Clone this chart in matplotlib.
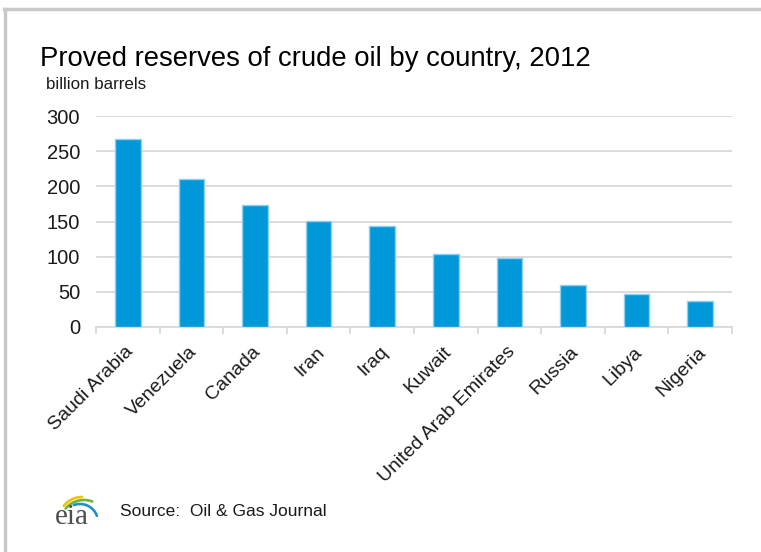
import matplotlib
matplotlib.use("Agg")
import matplotlib.pyplot as plt
import matplotlib.transforms as mtransforms
import numpy as np

####################################
# Data
####################################

countries = ['Saudi Arabia', 'Venezuela', 'Canada', 'Iran', 'Iraq', 'Kuwait',
             'United Arab Emirates', 'Russia', 'Libya', 'Nigeria']
reserves = [267, 211, 173, 151, 143, 104, 98, 60, 47, 37]
y_ticks = [0, 50, 100, 150, 200, 250, 300]

title = 'Proved reserves of crude oil by country, 2012'
unit = 'billion barrels'
source = 'Source:  Oil & Gas Journal'

####################################
# Style
####################################

bar_colour = '#0098d8'
bar_edge = '#8fd0ee'
grid_colour = '#d9d9d9'
text_colour = '#1a1a1a'
plt.rcParams['font.family'] = ['Liberation Sans', 'DejaVu Sans']

fig = plt.figure(figsize=(7.61, 5.52), dpi=100)
ax = fig.add_axes([96/761, 1 - 327/552, 636/761, 211/552])

x = np.arange(len(countries))
ax.bar(x, reserves, width=0.4, color=bar_colour, edgecolor=bar_edge, lw=1, zorder=3)

ax.set_xlim(-0.5, len(countries) - 0.5)
ax.set_ylim(0, 300)
ax.set_yticks(y_ticks)
ax.set_yticklabels([str(v) for v in y_ticks], fontsize=14.5, color=text_colour)
ax.yaxis.grid(True, color=grid_colour, lw=1.3, zorder=0)
ax.tick_params(axis='y', length=0, pad=11.5)

# labels at bar centres, tick marks at category edges
ax.set_xticks(x)
ax.set_xticklabels(countries, rotation=45, ha='right', va='center',
                   rotation_mode='anchor', fontsize=14, color=text_colour)
ax.tick_params(axis='x', which='major', length=0, pad=14)
shift = mtransforms.ScaledTranslation(3/100, -3/100, fig.dpi_scale_trans)
for lab in ax.get_xticklabels():
    lab.set_transform(lab.get_transform() + shift)
ax.set_xticks(np.arange(-0.5, len(countries)), minor=True)
ax.tick_params(axis='x', which='minor', length=5, width=1.3, color=grid_colour)

for s in ['top', 'right', 'left']:
    ax.spines[s].set_visible(False)
ax.spines['bottom'].set_color(grid_colour)
ax.spines['bottom'].set_linewidth(1.3)
ax.set_axisbelow(True)

# titles
fig.text(40/761, 1 - 66/552, title, fontsize=19.8, color='black')
fig.text(46/761, 1 - 89/552, unit, fontsize=12.2, color=text_colour)
fig.text(120/761, 1 - 516/552, source, fontsize=12.5, color=text_colour)

# overlay in pixel units (y down) for the logo and the frame
over = fig.add_axes([0, 0, 1, 1])
over.set_xlim(0, 761)
over.set_ylim(552, 0)
over.axis('off')

# eia logo
over.text(55, 524, 'eia', fontsize=21, color='#4d4d4d',
          family=['Liberation Serif', 'DejaVu Serif'])
for colour, cx, cy, r, t0, t1 in [('#f2c200', 82, 520, 23, 90, 142),
                                  ('#6cb33f', 84, 524, 24, 70, 140),
                                  ('#1f8fd0', 80, 522, 18, 20, 110)]:
    t = np.radians(np.linspace(t0, t1, 30))
    over.plot(cx + r*np.cos(t), cy - r*np.sin(t), color=colour, lw=1.9,
              solid_capstyle='round')

# frame
over.plot([4, 761], [9, 9], color='#c8c8c8', lw=2.5)
over.plot([5, 5], [9, 552], color='#c8c8c8', lw=2.5)

fig.savefig('out.png', dpi=100)
